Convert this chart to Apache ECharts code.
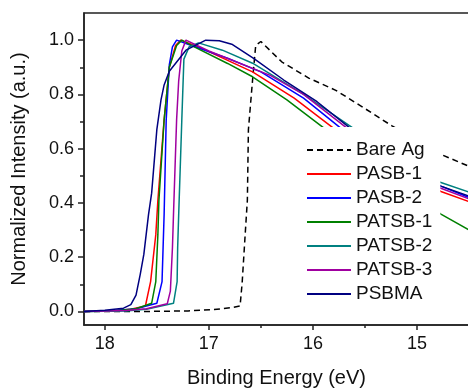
<!DOCTYPE html>
<html>
<head>
<meta charset="utf-8">
<script src="https://cdn.jsdelivr.net/npm/echarts@6/dist/echarts.min.js"></script>
<style>html,body{margin:0;padding:0;background:#fff;}#c{width:468px;height:388px;}</style>
</head>
<body>
<div id="c"></div>
<script>
// ---- data (x = binding energy eV, y = normalized intensity) ----
var seriesNames = ['Bare Ag', 'PASB-1', 'PASB-2', 'PATSB-1', 'PATSB-2', 'PATSB-3', 'PSBMA'];
var bareAg = [[18.2,0],[17.6,0],[17.2,0.002],[16.95,0.007],[16.78,0.014],[16.70,0.02],[16.68,0.106],[16.65,0.29],[16.63,0.41],[16.62,0.67],[16.58,0.853],[16.55,0.98],[16.50,0.995],[16.30,0.92],[16.04,0.86],[15.78,0.815],[15.53,0.755],[15.24,0.684],[14.76,0.577],[14.5,0.535]];
var pasb1 = [[18.2,0],[17.9,0.003],[17.75,0.008],[17.61,0.02],[17.56,0.11],[17.51,0.283],[17.49,0.41],[17.43,0.706],[17.38,0.9],[17.32,0.98],[17.27,1.0],[17.1,0.975],[16.58,0.883],[16.18,0.786],[15.80,0.675],[14.77,0.442],[14.5,0.405]];
var pasb2 = [[18.2,0],[17.9,0.003],[17.7,0.01],[17.5,0.03],[17.45,0.11],[17.44,0.234],[17.43,0.357],[17.41,0.706],[17.38,0.91],[17.35,0.975],[17.31,1.0],[17.2,0.985],[16.82,0.933],[16.50,0.883],[16.09,0.786],[15.73,0.675],[14.77,0.462],[14.5,0.42]];
var patsb1 = [[18.2,0],[17.9,0.002],[17.7,0.01],[17.55,0.03],[17.51,0.11],[17.49,0.283],[17.48,0.41],[17.43,0.706],[17.38,0.9],[17.31,0.98],[17.26,1.0],[17.14,0.975],[16.82,0.914],[16.58,0.865],[16.25,0.78],[15.89,0.675],[14.77,0.359],[14.5,0.30]];
var patsb2 = [[18.2,0],[17.8,0.002],[17.6,0.008],[17.34,0.03],[17.305,0.11],[17.30,0.234],[17.29,0.357],[17.26,0.706],[17.24,0.93],[17.19,0.975],[17.1,0.99],[16.87,0.963],[16.58,0.915],[16.09,0.80],[15.61,0.675],[14.77,0.475],[14.5,0.44]];
var patsb3 = [[18.2,0],[17.8,0.003],[17.6,0.01],[17.40,0.028],[17.37,0.075],[17.35,0.235],[17.34,0.357],[17.31,0.706],[17.29,0.85],[17.26,0.96],[17.22,1.0],[17.0,0.96],[16.58,0.896],[16.41,0.87],[16.09,0.80],[15.67,0.675],[14.77,0.454],[14.5,0.415]];
var psbma = [[18.2,0],[18.0,0.004],[17.82,0.012],[17.75,0.025],[17.70,0.06],[17.66,0.136],[17.625,0.21],[17.58,0.357],[17.55,0.436],[17.50,0.67],[17.46,0.78],[17.43,0.835],[17.38,0.885],[17.22,0.963],[17.03,1.0],[16.9,0.998],[16.78,0.985],[16.57,0.933],[16.28,0.853],[15.96,0.773],[15.64,0.675],[14.77,0.462],[14.5,0.425]];

var xMajorTicks = [15, 16, 17, 18];
var xMinorTicks = [15.5, 16.5, 17.5];
var yMajorTicks = [0, 0.2, 0.4, 0.6, 0.8, 1.0];
var yMinorTicks = [0.1, 0.3, 0.5, 0.7, 0.9];

var seriesData = [bareAg, pasb1, pasb2, patsb1, patsb2, patsb3, psbma];
var colors = ['#000000', '#ff0000', '#0000ff', '#008000', '#008080', '#a000a0', '#000080'];

var FONT = '"Liberation Sans", Arial, sans-serif';
var xRange = {min: 14.5, max: 18.2};
var yRange = {min: -0.05, max: 1.1};

var chart = echarts.init(document.getElementById('c'), null, {renderer: 'canvas'});

var series = seriesData.map(function (d, i) {
  return {
    name: seriesNames[i],
    type: 'line',
    data: d,
    xAxisIndex: 0,
    yAxisIndex: 0,
    showSymbol: false,
    symbol: 'none',
    smooth: false,
    animation: false,
    lineStyle: {color: colors[i], width: 1.5, type: i === 0 ? [6, 4] : 'solid'},
    itemStyle: {color: colors[i]}
  };
});

var option = {
  animation: false,
  backgroundColor: '#ffffff',
  textStyle: {fontFamily: FONT},
  grid: {left: 84, top: 13, right: -1, bottom: 63, containLabel: false, outerBoundsMode: 'none',
    show: true, borderColor: '#222', borderWidth: 1.5, backgroundColor: 'transparent'},
  legend: {
    orient: 'vertical',
    left: 296,
    top: 127,
    padding: [13, 8, 8, 10],
    backgroundColor: '#ffffff',
    itemWidth: 44,
    itemHeight: 14,
    itemGap: 4,
    itemStyle: {opacity: 0},
    textStyle: {fontSize: 19, color: '#111', fontFamily: FONT, lineHeight: 20},
    data: seriesNames,
    z: 10
  },
  xAxis: [
    {
      type: 'value', position: 'bottom', inverse: true, min: xRange.min, max: xRange.max,
      name: 'Binding Energy (eV)', nameLocation: 'middle', nameGap: 43,
      nameTextStyle: {fontSize: 20, color: '#111', fontFamily: FONT},
      axisLine: {show: true, onZero: false, lineStyle: {color: '#222', width: 1.5}},
      axisTick: {show: true, inside: false, length: 5, lineStyle: {color: '#222', width: 1.5}, customValues: xMajorTicks},
      axisLabel: {show: true, margin: 10, fontSize: 18, color: '#111', fontFamily: FONT, customValues: xMajorTicks,
        formatter: function (v) { return String(Math.round(v)); }},
      splitLine: {show: false}
    },
    {
      type: 'value', position: 'bottom', inverse: true, min: xRange.min, max: xRange.max,
      axisLine: {show: false, onZero: false},
      axisTick: {show: true, inside: false, length: 3, lineStyle: {color: '#222', width: 1.5}, customValues: xMinorTicks},
      axisLabel: {show: false},
      splitLine: {show: false}
    }
  ],
  yAxis: [
    {
      type: 'value', position: 'left', min: yRange.min, max: yRange.max,
      name: 'Normalized Intensity (a.u.)', nameLocation: 'middle', nameGap: 55,
      nameTextStyle: {fontSize: 20, color: '#111', fontFamily: FONT},
      axisLine: {show: true, onZero: false, lineStyle: {color: '#222', width: 1.5}},
      axisTick: {show: true, inside: false, length: 6, lineStyle: {color: '#222', width: 1.5}, customValues: yMajorTicks},
      axisLabel: {show: true, margin: 10, fontSize: 18, color: '#111', fontFamily: FONT, customValues: yMajorTicks,
        formatter: function (v) { return v.toFixed(1); }},
      splitLine: {show: false}
    },
    {
      type: 'value', position: 'left', min: yRange.min, max: yRange.max,
      axisLine: {show: false, onZero: false},
      axisTick: {show: true, inside: false, length: 4, lineStyle: {color: '#222', width: 1.5}, customValues: yMinorTicks},
      axisLabel: {show: false},
      splitLine: {show: false}
    }
  ],
  series: series
};
chart.setOption(option);
</script>
</body>
</html>
